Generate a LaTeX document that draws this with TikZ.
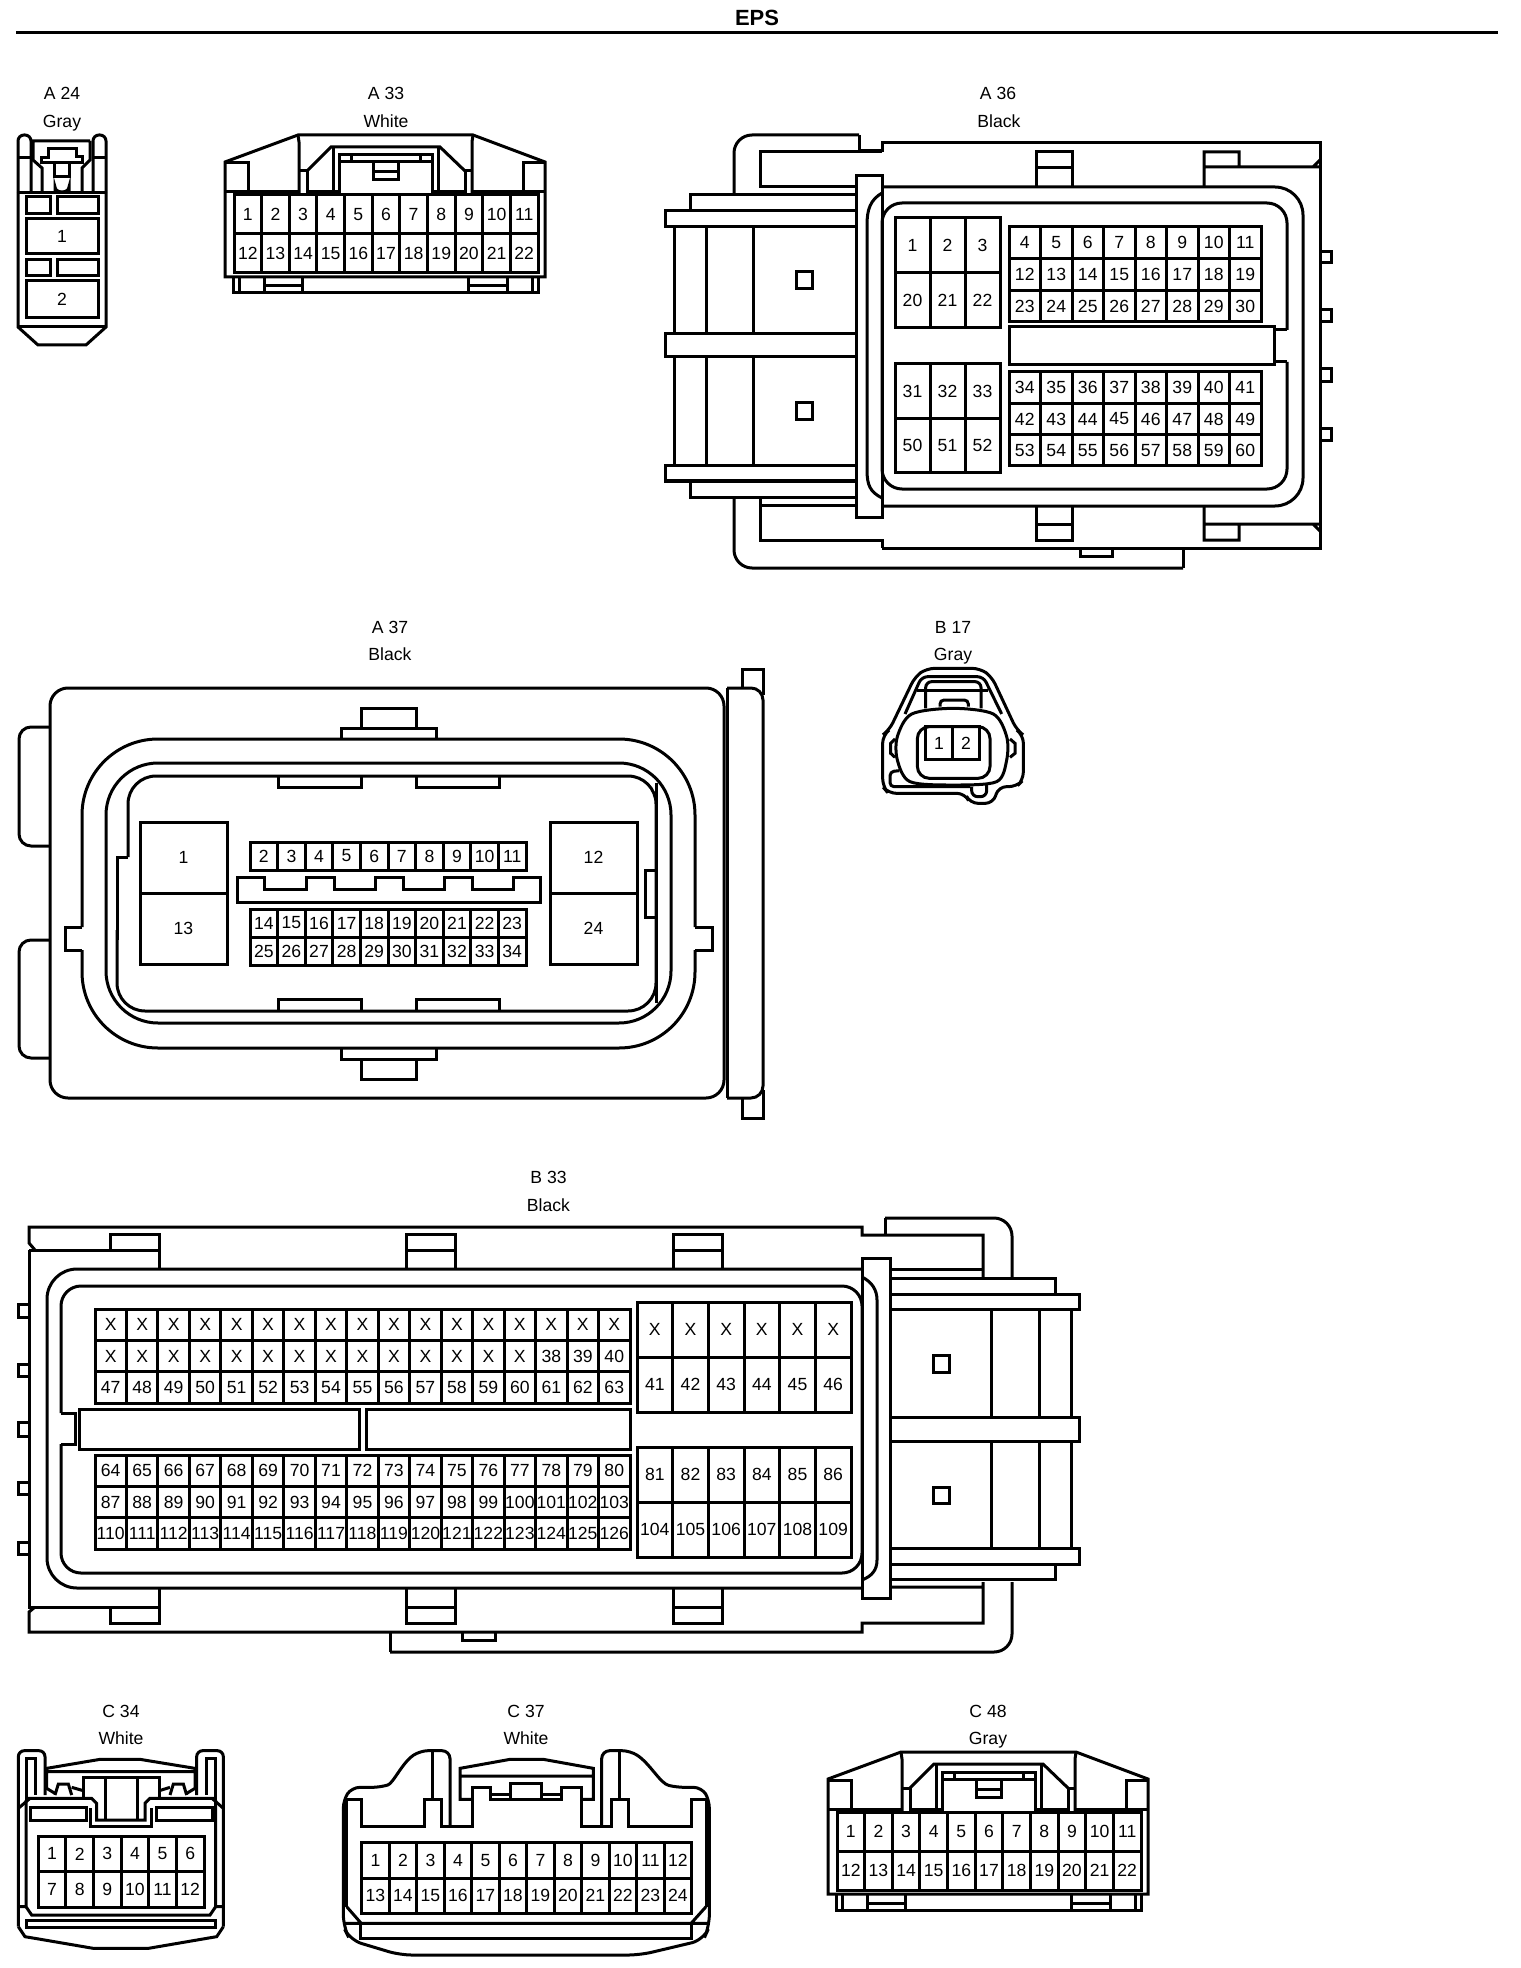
\documentclass[tikz,border=0pt]{standalone}
\usepackage{fontspec}
\setmainfont{Liberation Sans}
\tikzset{
	pinnum/.style={font=\fontsize{8.8}{10}\selectfont,inner sep=0pt},
	tag/.style={font=\fontsize{8.8}{10}\selectfont,inner sep=0pt,text height=6.4pt,text depth=1.9pt},
	zoomed/.style={x=0.16667pt,y=-0.16667pt}
}
% #1 name, #2 #3 #4 #5 corners, #6 columns, #7 rows, #8 numbers
\newcommand{\pinblock}[8]{
	\draw (#2,#3) rectangle (#4,#5);
	\foreach \k in {1,...,#6} {
		\pgfmathsetmacro{\cx}{#2+\k*(#4-#2)/#6}
		\ifnum\k<#6 \draw (\cx,#3) -- (\cx,#5); \fi
	}
	\foreach \k in {1,...,#7} {
		\pgfmathsetmacro{\cy}{#3+\k*(#5-#3)/#7}
		\ifnum\k<#7 \draw (#2,\cy) -- (#4,\cy); \fi
	}
	\foreach \n [count=\k from 0] in {#8} {
		\pgfmathsetmacro{\cx}{#2+(mod(\k,#6)+.5)*(#4-#2)/#6}
		\pgfmathsetmacro{\cy}{#3+(floor(\k/#6)+.5)*(#5-#3)/#7}
		\node[pinnum] (#1-\k) at (\cx,\cy) {\n};
	}
}
\newcommand{\wideconn}[1]{
	\draw (225,277) -- (225,162) -- (298,135) -- (473,135) -- (545,162) -- (545,277) -- cycle;
	\draw (226,163) -- (248,163) -- (248,192) (523,192) -- (523,163) -- (545,163);
	\draw (225,192) -- (299,192) (307,192) -- (339,192) (432,192) -- (465,192) (473,192) -- (545,192);
	\draw (298,135) -- (299,142) -- (299,195) (473,135) -- (472,142) -- (472,195);
	\draw (307,195) -- (307,171) -- (299,171) (465,195) -- (465,171) -- (472,171);
	\draw (307,171) -- (331,147) -- (440,147) -- (465,171);
	\draw (333,147) -- (333,192) (438,147) -- (438,192);
	\draw (339,195) -- (339,155) -- (432,155) -- (432,195);
	\draw (339,162) -- (432,162) (351,155) -- (351,162) (420,155) -- (420,162);
	\draw (373,163) -- (373,180) -- (398,180) -- (398,163) (373,172) -- (398,172);
	\draw (233,277) -- (233,293) -- (538,293) -- (538,277);
	\foreach \xa in {239,264,302,468,507,532} \draw (\xa,277) -- (\xa,293);
	\draw (264,286) -- (302,286) (468,286) -- (507,286);
	\pinblock{#1}{234}{195}{538}{273}{11}{2}{1,...,22}
}
\begin{document}
\begin{tikzpicture}[x=0.5pt,y=-0.5pt,line width=1.5pt]
	\useasboundingbox (0,0) rectangle (1520,1968);
	\node[font=\fontsize{11}{12}\selectfont\bfseries,inner sep=0pt] (title) at (757,18) {EPS};
	\draw (16,33) -- (1498,33);

	% A 24
	\node[tag] (a24name) at (62,95.5) {A 24};
	\node[tag] (a24color) at (62,123.5) {Gray};
	\draw[rounded corners=3pt] (18,193) -- (18,135) -- (31,135) -- (31,193);
	\draw[rounded corners=3pt] (93,193) -- (93,135) -- (106,135) -- (106,193);
	\draw (18,158) -- (31,158) (93,158) -- (106,158) (18,193) -- (106,193) (18,327) -- (106,327);
	\draw (18,193) -- (18,327) -- (38,345) -- (86,345) -- (106,327) -- (106,193);
	\draw (32,141) -- (90,141) (33,141) -- (33,160) -- (42,168) -- (42,193) (90,141) -- (90,160) -- (82,168) -- (82,193);
	\draw (41,163) -- (41,158) -- (48,158) -- (48,149) -- (76,149) -- (76,157) -- (82,157) -- (82,163) -- cycle;
	\draw (54,163) -- (54,177) -- (69,177) -- (69,163);
	\draw (55,193) -- (55,187) arc (180:360:7 and -5) -- (69,193);
	\draw (26,197) rectangle (50,214) (57,197) rectangle (98,214);
	\draw (57,260) rectangle (98,276) (26,260) rectangle (50,276);
	\pinblock{a24}{26}{219}{98}{254}{1}{1}{1}
	\pinblock{a24b}{26}{281}{98}{318}{1}{1}{2}

	% A 33
	\node[tag] (a33name) at (386,95.5) {A 33};
	\node[tag] (a33color) at (386,123.5) {White};
	\wideconn{a33}

	% A 36
	\node[tag] (a36name) at (998,95.5) {A 36};
	\node[tag] (a36color) at (999,123.5) {Black};
	\draw[rounded corners=9pt] (734,193) -- (734,135) -- (859,135);
	\draw (859,135) -- (859,151) -- (882,151) -- (882,143) -- (1320,143) -- (1320,548) -- (882,548) (1183,548) -- (1183,568);
	\draw[rounded corners=9pt] (1183,568) -- (734,568) -- (734,497);
	\draw (882,152) -- (760,152) -- (760,188) (760,187) -- (856,187);
	\draw (760,498) -- (760,540) -- (882,540) -- (882,548) (760,505) -- (856,505);
	\draw (1036,187) -- (1036,152) -- (1072,152) -- (1072,187) (1036,168) -- (1072,168);
	\draw (1204,187) -- (1204,152) -- (1239,152) -- (1239,167) (1204,167) -- (1320,167) (1313,167) -- (1320,160);
	\draw (1036,507) -- (1036,540) -- (1072,540) -- (1072,507) (1036,524) -- (1072,524);
	\draw (1204,507) -- (1204,540) -- (1239,540) -- (1239,524) (1204,524) -- (1320,524) (1313,524) -- (1320,531);
	\draw (1080,549) -- (1080,556) -- (1112,556) -- (1112,549);
	\draw (856,176) rectangle (882,517);
	\draw (882,193) .. controls (870,200) and (867,210) .. (867,225) -- (867,470) .. controls (867,485) and (870,492) .. (882,498);
	\draw[rounded corners=14pt] (882,187) -- (1303,187) -- (1303,506) -- (882,506);
	\draw[rounded corners=10pt] (1287,330) -- (1287,203) -- (882,203) -- (882,489) -- (1287,489) -- (1287,362);
	\draw (1287,330) -- (1274,330) (1287,362) -- (1274,362);
	\draw (1009,327) rectangle (1274,365);
	\draw (690,210) -- (690,195) -- (856,195);
	\draw (856,211) -- (665,211) -- (665,227) -- (856,227);
	\draw (856,334) -- (665,334) -- (665,357) -- (856,357);
	\draw (856,466) -- (665,466) -- (665,481) -- (856,481);
	\draw (690,481) -- (690,497) -- (856,497);
	\foreach \xa in {674,706,753} \draw (\xa,227) -- (\xa,334) (\xa,357) -- (\xa,466);
	\draw (796,272) rectangle (812,289) (796,403) rectangle (812,420);
	\foreach \ya/\yb in {252/263,310/322,369/382,429/441} \draw (1320,\ya) -- (1331,\ya) -- (1331,\yb) -- (1320,\yb);
	\pinblock{a36a}{895}{218}{1000}{328}{3}{2}{1,2,3,20,21,22}
	\pinblock{a36b}{895}{364}{1000}{473}{3}{2}{31,32,33,50,51,52}
	\pinblock{a36c}{1009}{227}{1261}{322}{8}{3}{4,5,6,7,8,9,10,11,12,13,14,15,16,17,18,19,23,24,25,26,27,28,29,30}
	\pinblock{a36d}{1009}{372}{1261}{466}{8}{3}{34,35,36,37,38,39,40,41,42,43,44,45,46,47,48,49,53,54,55,56,57,58,59,60}

	% A 37
	\node[tag] (a37name) at (390,629) {A 37};
	\node[tag] (a37color) at (390,656) {Black};
	\draw[rounded corners=9pt] (50,688) rectangle (724,1098);
	\draw[rounded corners=6pt] (50,727) -- (19,727) -- (19,846) -- (50,846);
	\draw[rounded corners=6pt] (50,940) -- (19,940) -- (19,1058) -- (50,1058);
	\draw (727,688) -- (727,1098);
	\draw[rounded corners=6pt] (727,688) -- (763,688) -- (763,1098) -- (727,1098);
	\draw (742,688) -- (742,669) -- (763,669) -- (763,695) (742,1098) -- (742,1118) -- (763,1118) -- (763,1090);
	\draw (361,728) -- (361,708) -- (416,708) -- (416,728) (341,738) -- (341,728) -- (436,728) -- (436,738);
	\draw (361,1059) -- (361,1079) -- (416,1079) -- (416,1059) (341,1048) -- (341,1059) -- (436,1059) -- (436,1048);
	\draw[rounded corners=38pt] (82,927) -- (82,739) -- (695,739) -- (695,927);
	\draw[rounded corners=38pt] (82,950) -- (82,1048) -- (695,1048) -- (695,950);
	\draw (82,927) -- (65,927) -- (65,950) -- (82,950) (695,927) -- (712,927) -- (712,950) -- (695,950);
	\draw[rounded corners=26pt] (106,893) -- (106,763) -- (671,763) -- (671,1023) -- (106,1023) -- cycle;
	\draw[rounded corners=14pt] (128,857) -- (128,776) -- (656,776) -- (656,1011) -- (117,1011) -- (117,930);
	\draw (117,940) -- (117,857) -- (128,857) (656,783) -- (656,1003);
	\draw (656,870) -- (645,870) -- (645,917) -- (656,917);
	\draw (278,776) -- (278,787) -- (361,787) -- (361,776) (416,776) -- (416,787) -- (499,787) -- (499,776);
	\draw (278,1011) -- (278,999) -- (361,999) -- (361,1011) (416,1011) -- (416,999) -- (499,999) -- (499,1011);
	\pinblock{a37a}{140}{822}{227}{964}{1}{2}{1,13}
	\pinblock{a37b}{550}{822}{637}{964}{1}{2}{12,24}
	\pinblock{a37c}{250}{842}{526}{870}{10}{1}{2,...,11}
	\pinblock{a37d}{250}{909}{526}{965}{10}{2}{14,15,16,17,18,19,20,21,22,23,25,26,27,28,29,30,31,32,33,34}
	\draw (237,877) -- (264,877) -- (264,889) -- (306,889) -- (306,877) -- (334,877) -- (334,889) -- (375,889) -- (375,877) -- (403,877) -- (403,889) -- (444,889) -- (444,877) -- (472,877) -- (472,889) -- (513,889) -- (513,877) -- (540,877) -- (540,902) -- (237,902) -- cycle;

	% B 17
	\node[tag] (b17name) at (953,629) {B 17};
	\node[tag] (b17color) at (953,656) {Gray};
	\begin{scope}[shift={(860,640)},zoomed]
		\draw[rounded corners=4pt] (200,85) -- (360,85) -- (395,110) -- (470,270) -- (490,285) -- (490,420) -- (470,440) -- (415,440) -- (400,490) -- (330,490) -- (315,460) -- (85,460) -- (68,440) -- (68,285) -- (88,270) -- (165,110) -- cycle;
		\draw[rounded corners=3pt] (135,222) -- (185,110) -- (370,110) -- (425,222);
		\draw (172,150) -- (385,150);
		\draw[rounded corners=3pt] (197,205) -- (197,125) -- (363,125) -- (363,205);
		\draw[rounded corners=2pt] (240,200) -- (240,180) -- (325,180) -- (325,200);
		\draw plot[smooth cycle] coordinates {(280,205) (400,222) (440,290) (440,360) (410,425) (280,435) (150,425) (112,360) (112,290) (155,222)};
		\draw[rounded corners=6pt] (172,260) rectangle (390,415);
		\pinblock{b17}{197}{260}{358}{358}{2}{1}{1,2}
		\draw (105,297) -- (92,310) -- (92,340) -- (105,352) (450,297) -- (465,310) -- (465,340) -- (450,352);
		\draw[rounded corners=2pt] (118,392) -- (90,395) -- (90,440) -- (330,440);
		\draw[rounded corners=3pt] (335,440) -- (335,470) -- (380,470) -- (380,432);
	\end{scope}

	% B 33
	\node[tag] (b33name) at (548.5,1178.5) {B 33};
	\node[tag] (b33color) at (548.5,1206.5) {Black};
	\draw (35,1250) -- (29,1243) -- (29,1227) -- (862,1227) -- (862,1235) -- (983,1235) -- (983,1277);
	\draw (885,1235) -- (885,1218);
	\draw[rounded corners=9pt] (885,1218) -- (1012,1218) -- (1012,1277);
	\draw (890,1269) -- (983,1269) (29,1250) -- (159,1250) (29,1250) -- (29,1607) -- (159,1607);
	\draw (35,1607) -- (29,1612) -- (29,1632) -- (862,1632) -- (862,1623) -- (983,1623) -- (983,1582) (890,1587) -- (983,1587);
	\draw (390,1632) -- (390,1652);
	\draw[rounded corners=9pt] (390,1652) -- (1012,1652) -- (1012,1582);
	\draw (462,1633) -- (462,1640) -- (495,1640) -- (495,1633);
	\draw (110,1250) -- (110,1234) -- (159,1234) -- (159,1268);
	\draw (406,1268) -- (406,1234) -- (455,1234) -- (455,1268) (406,1250) -- (455,1250);
	\draw (673,1268) -- (673,1234) -- (722,1234) -- (722,1268) (673,1250) -- (722,1250);
	\draw (110,1607) -- (110,1623) -- (159,1623) -- (159,1588);
	\draw (406,1588) -- (406,1623) -- (455,1623) -- (455,1588) (406,1607) -- (455,1607);
	\draw (673,1588) -- (673,1623) -- (722,1623) -- (722,1588) (673,1607) -- (722,1607);
	\draw[rounded corners=15pt] (862,1269) -- (47,1269) -- (47,1588) -- (862,1588);
	\draw (862,1258) rectangle (890,1598);
	\draw (862,1277) .. controls (872,1282) and (877,1290) .. (877,1300) -- (877,1560) .. controls (877,1570) and (872,1576) .. (862,1580);
	\draw[rounded corners=10pt] (61,1413) -- (61,1286) -- (862,1286) -- (862,1573) -- (61,1573) -- (61,1444);
	\draw (61,1413) -- (75,1413) -- (75,1444) -- (61,1444);
	\draw (79,1409) rectangle (359,1449) (366,1409) rectangle (630,1449);
	\draw (890,1278) -- (1055,1278) -- (1055,1294);
	\draw (890,1294) -- (1079,1294) -- (1079,1309) -- (890,1309);
	\draw (890,1417) -- (1079,1417) -- (1079,1441) -- (890,1441);
	\draw (890,1548) -- (1079,1548) -- (1079,1564) -- (890,1564);
	\draw (1055,1564) -- (1055,1579) -- (890,1579);
	\foreach \xa in {991,1039,1071} \draw (\xa,1309) -- (\xa,1417) (\xa,1441) -- (\xa,1548);
	\draw (933,1355) rectangle (949,1372) (933,1487) rectangle (949,1503);
	\foreach \ya/\yb in {1304/1317,1364/1376,1422/1436,1482/1494,1542/1554} \draw (29,\ya) -- (18,\ya) -- (18,\yb) -- (29,\yb);
	\pinblock{b33a}{95}{1309}{630}{1403}{17}{3}{X,X,X,X,X,X,X,X,X,X,X,X,X,X,X,X,X,X,X,X,X,X,X,X,X,X,X,X,X,X,X,38,39,40,47,48,49,50,51,52,53,54,55,56,57,58,59,60,61,62,63}
	\pinblock{b33b}{95}{1455}{630}{1549}{17}{3}{64,65,66,67,68,69,70,71,72,73,74,75,76,77,78,79,80,87,88,89,90,91,92,93,94,95,96,97,98,99,100,101,102,103,110,111,112,113,114,115,116,117,118,119,120,121,122,123,124,125,126}
	\pinblock{b33c}{637}{1302}{851}{1412}{6}{2}{X,X,X,X,X,X,41,42,43,44,45,46}
	\pinblock{b33d}{637}{1447}{851}{1557}{6}{2}{81,82,83,84,85,86,104,105,106,107,108,109}

	% C 34
	\node[tag] (c34name) at (121,1712.5) {C 34};
	\node[tag] (c34color) at (121,1739.5) {White};
	\begin{scope}[shift={(0,1700)},zoomed]
		\draw[rounded corners=3pt] (135,285) -- (135,152) -- (55,152) -- (55,680);
		\draw[rounded corners=3pt] (590,285) -- (590,152) -- (670,152) -- (670,680);
		\draw (55,680) -- (75,710) -- (105,715) -- (280,745) -- (445,745) -- (620,715) -- (650,710) -- (670,680);
		\draw (78,300) -- (78,175) -- (105,175) -- (105,285) (647,300) -- (647,175) -- (620,175) -- (620,285);
		\draw (165,280) -- (140,265) -- (140,205) -- (300,178) -- (420,178) -- (585,205) -- (585,265) -- (560,280) (140,215) -- (585,215);
		\draw (165,285) -- (175,252) -- (205,252) -- (215,285) (560,285) -- (550,252) -- (520,252) -- (510,285);
		\draw (215,262) -- (250,272) (510,262) -- (478,272);
		\draw (250,290) -- (250,232) -- (478,232) -- (478,290);
		\draw (315,232) -- (315,360) (412,232) -- (412,360);
		\draw (75,295) -- (275,295) -- (290,310) -- (290,360) -- (435,360) -- (435,310) -- (450,295) -- (650,295);
		\draw (272,325) -- (272,380) -- (455,380) -- (455,325);
		\draw (90,322) rectangle (258,360) (468,322) rectangle (636,360);
		\draw (78,300) -- (78,620) -- (95,645) -- (630,645) -- (647,620) -- (647,300);
		\draw (55,325) -- (90,295) (670,325) -- (636,295) (55,620) -- (78,620) (670,620) -- (647,620);
		\draw (78,660) -- (645,660) -- (645,682) -- (78,682) -- cycle;
		\pinblock{c34}{115}{408}{612}{622}{6}{2}{1,...,12}
	\end{scope}

	% C 37
	\node[tag] (c37name) at (526,1712.5) {C 37};
	\node[tag] (c37color) at (526,1739.5) {White};
	\begin{scope}[shift={(330,1700)},zoomed]
		\draw[rounded corners=6pt] (40,330) -- (40,680) -- (60,720) -- (210,765) -- (930,765) -- (1120,720) -- (1138,680) -- (1138,330);
		\draw[rounded corners=4pt] (40,330) -- (40,300) -- (65,262) -- (150,262) .. controls (190,250) and (215,190) .. (270,152) -- (360,152) -- (360,378);
		\draw[rounded corners=4pt] (1138,330) -- (1138,300) -- (1115,262) -- (1040,262) .. controls (990,250) and (960,190) .. (900,152) -- (815,152) -- (815,378);
		\draw (307,152) -- (307,298) (868,152) -- (868,298);
		\draw (50,620) -- (50,298) -- (95,298) -- (95,378) -- (282,378) -- (282,298) -- (335,298) -- (335,378) -- (428,378) -- (428,262) -- (482,262) -- (482,298) -- (695,298) -- (695,262) -- (755,262) -- (755,378) -- (845,378) -- (845,298) -- (895,298) -- (895,378) -- (1085,378) -- (1085,298) -- (1128,298) -- (1128,620);
		\draw (428,298) -- (390,298) -- (390,205) -- (540,178) -- (640,178) -- (790,205) -- (790,298) -- (755,298) (390,228) -- (790,228);
		\draw (482,282) -- (540,282) (540,298) -- (540,250) -- (635,250) -- (635,298) (635,282) -- (695,282);
		\draw (50,620) -- (92,668) (1128,620) -- (1085,668) (40,670) -- (1138,670);
		\draw (92,670) -- (92,715) -- (1085,715) -- (1085,670);
		\pinblock{c37}{95}{428}{1085}{640}{12}{2}{1,...,24}
	\end{scope}

	% C 48
	\node[tag] (c48name) at (988,1712.5) {C 48};
	\node[tag] (c48color) at (988,1739.5) {Gray};
	\begin{scope}[shift={(603,1617)}]
		\wideconn{c48}
	\end{scope}
\end{tikzpicture}
\end{document}
